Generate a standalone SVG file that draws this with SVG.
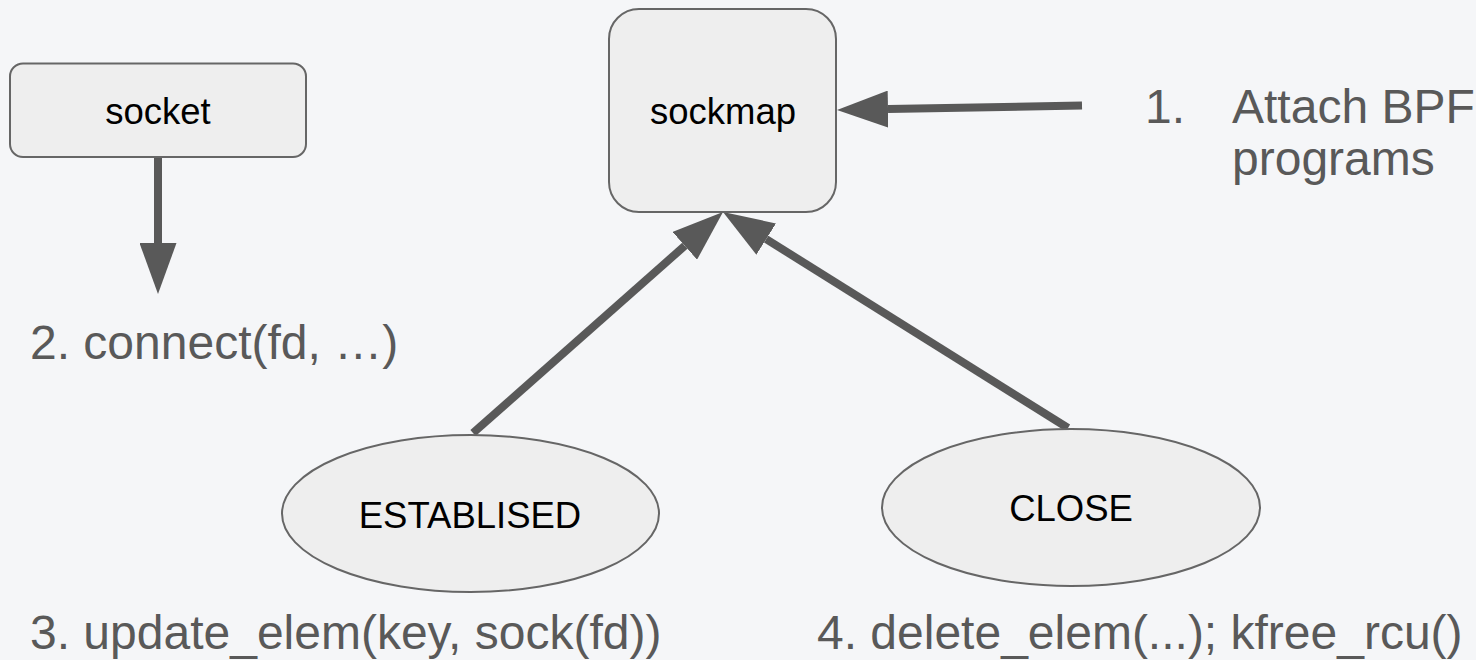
<svg xmlns="http://www.w3.org/2000/svg" width="1476" height="660" viewBox="0 0 1476 660">
<style>
.node{fill:#eeeeee;stroke:#666666;stroke-width:2}
.nl{font-family:"Liberation Sans",Arial,sans-serif;font-size:36.5px;fill:#000000;text-anchor:middle}
.gl{font-family:"Liberation Sans",Arial,sans-serif;font-size:48px;fill:#595959}
.conn{stroke:#595959;stroke-width:8;fill:none;marker-end:url(#ah)}
</style>
<defs>
<marker id="ah" viewBox="0 0 51 37" refX="0" refY="18.5" markerWidth="51" markerHeight="37" markerUnits="userSpaceOnUse" orient="auto">
<path d="M0,0 L51,18.5 L0,37 Z" fill="#595959"/>
</marker>
</defs>
<rect width="1476" height="660" fill="#f5f6f8"/>
<g id="connectors">
<path class="conn" d="M158,157 L158,243"/>
<path class="conn" d="M1082,105.5 L888,109.1"/>
<path class="conn" d="M473,433 L684.8,245.8"/>
<path class="conn" d="M1068,428 L766.2,239.1"/>
</g>
<g id="socket">
<rect class="node" x="10" y="63.5" width="296" height="93.5" rx="13"/>
<text class="nl" x="158" y="124">socket</text>
</g>
<g id="sockmap">
<rect class="node" x="609" y="9" width="227" height="203" rx="30"/>
<text class="nl" x="723" y="124">sockmap</text>
</g>
<g id="established">
<ellipse class="node" cx="470.5" cy="513.5" rx="188.5" ry="78.5"/>
<text class="nl" x="470" y="528">ESTABLISED</text>
</g>
<g id="close">
<ellipse class="node" cx="1071" cy="507.5" rx="189" ry="78.5"/>
<text class="nl" x="1071" y="521">CLOSE</text>
</g>
<g id="labels">
<text class="gl" x="1145" y="123">1.</text>
<text class="gl" x="1232" y="123">Attach BPF</text>
<text class="gl" x="1232" y="175">programs</text>
<text class="gl" x="30" y="359">2. connect(fd, …)</text>
<text class="gl" x="30" y="649">3. update_elem(key, sock(fd))</text>
<text class="gl" x="817" y="649">4. delete_elem(...); kfree_rcu()</text>
</g>
</svg>
